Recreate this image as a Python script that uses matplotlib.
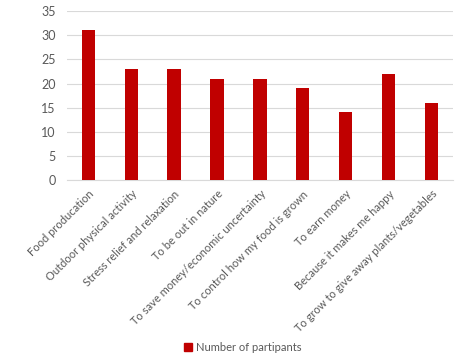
import matplotlib
matplotlib.use("Agg")
import matplotlib.pyplot as plt
from matplotlib.patches import Patch

categories = ["Food producation", "Outdoor physical activity", "Stress relief and relaxation",
              "To be out in nature", "To save money/economic uncertainty",
              "To control how my food is grown", "To earn money",
              "Because it makes me happy", "To grow to give away plants/vegetables"]
values = [31, 23, 23, 21, 21, 19, 14, 22, 16]
series_name = "Number of partipants"

plt.rcParams['font.family'] = ['Lato', 'DejaVu Sans']
txt = '#595959'

fig = plt.figure(figsize=(4.58, 3.56), dpi=100)
ax = fig.add_axes([0.146, 0.494, 0.843, 0.475])
x = range(len(categories))
ax.bar(x, values, width=0.31, color='#c00000', zorder=3)
ax.set_xlim(-0.5, len(categories) - 0.5)
ax.set_ylim(0, 35)
ax.set_yticks(range(0, 36, 5))
ax.grid(axis='y', color='#d9d9d9', linewidth=0.8, zorder=0)
for s in ['top', 'right', 'left']:
    ax.spines[s].set_visible(False)
ax.spines['bottom'].set_color('#d9d9d9')
ax.tick_params(axis='both', length=0, colors=txt, labelsize=9)
ax.tick_params(axis='y', pad=8)
ax.set_xticks(list(x))
ax.set_xticklabels(categories, rotation=45, ha='right', rotation_mode='anchor', color=txt, fontsize=8)
ax.tick_params(axis='x', pad=6)
fig.legend(handles=[Patch(color='#c00000', label=series_name)], loc='center',
           bbox_to_anchor=(0.53, 0.025), frameon=False, fontsize=8, labelcolor=txt,
           handlelength=0.7, handleheight=0.7, handletextpad=0.3)
fig.savefig("out.png", dpi=100)
